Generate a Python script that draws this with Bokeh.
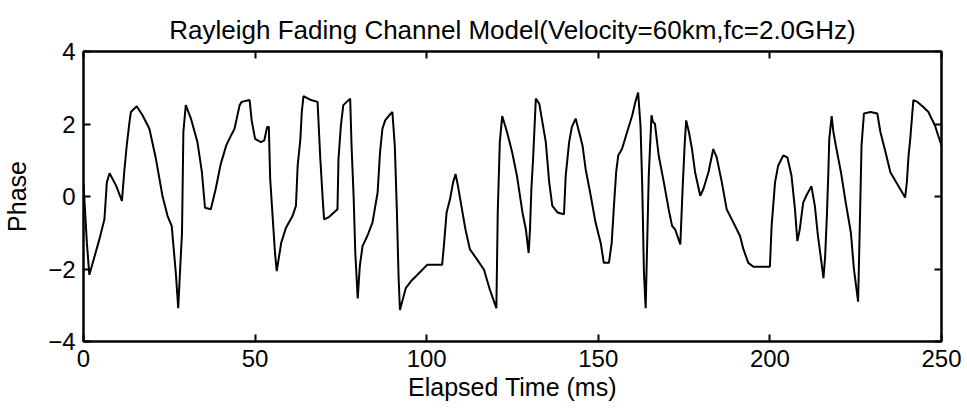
from bokeh.plotting import figure
from bokeh.models import LinearAxis, Range1d, FixedTicker, CustomJSTickFormatter
from bokeh.embed import file_html
from bokeh.resources import INLINE

time_ms = [0, 1.0, 1.7, 2.7, 4.6, 6.1, 6.8, 7.6, 9.5, 11.2, 11.9, 12.6, 13.4, 13.8, 15.5, 17.2, 19.2,
           21.1, 23.0, 24.5, 25.7, 26.9, 27.6, 28.1, 28.7, 29.1, 29.8, 31.3, 33.2, 34.5, 35.4, 37.1,
           38.5, 40.0, 41.6, 42.5, 44.0, 45.5, 46.1, 48.4, 49.0, 50.0, 51.7, 52.7, 53.5, 54.0, 54.4,
           55.1, 55.8, 56.3, 57.6, 59.0, 60.9, 61.9, 62.4, 63.2, 63.6, 64.1, 66.3, 68.2, 69.0, 69.7,
           70.1, 71.6, 74.0, 74.3, 75.0, 75.7, 77.7, 78.1, 78.7, 79.2, 79.9, 80.5, 81.3, 82.7, 84.2,
           85.7, 86.4, 87.1, 87.9, 89.1, 90.0, 90.7, 91.3, 91.8, 92.2, 93.0, 93.9, 95.4, 97.3, 100.2,
           104.5, 105.0, 105.8, 106.8, 107.7, 108.4, 109.1, 110.1, 111.3, 112.6, 114.7, 116.7, 118.4,
           120.3, 120.7, 121.3, 122.0, 123.4, 124.9, 126.3, 127.9, 128.9, 129.7, 130.1, 130.5, 131.0,
           131.8, 132.8, 133.7, 134.7, 135.7, 136.6, 138.1, 140.0, 140.5, 141.5, 142.3, 143.4, 144.4,
           145.4, 146.3, 147.8, 149.2, 150.7, 151.6, 153.1, 153.9, 154.5, 155.2, 155.8, 156.9, 158.4,
           159.9, 160.8, 161.6, 162.3, 162.8, 163.3, 163.8, 164.2, 164.7, 165.5, 165.9, 166.5, 167.6,
           169.1, 170.5, 171.5, 172.4, 173.9, 174.6, 175.2, 175.6, 176.4, 177.3, 178.2, 179.7, 180.6,
           182.1, 183.5, 184.5, 186.0, 187.4, 188.9, 191.3, 192.3, 193.7, 195.2, 197.6, 200.0, 200.5,
           201.5, 202.4, 203.9, 205.1, 206.3, 207.3, 208.0, 208.7, 209.7, 210.6, 212.1, 213.1, 214.0,
           214.8, 215.6, 216.1, 216.6, 217.0, 217.3, 218.0, 218.5, 219.2, 220.7, 222.1, 223.6, 224.5,
           225.7, 226.3, 226.7, 227.4, 229.3, 231.3, 232.2, 233.7, 235.1, 236.5, 238.0, 239.4, 239.9,
           240.4, 240.9, 241.8, 243.0, 244.7, 246.2, 247.1, 248.1, 249.0, 250.0]

phase = [0.35, -1.3, -2.16, -1.83, -1.19, -0.63, 0.39, 0.64, 0.30, -0.12, 0.71, 1.41, 2.06, 2.33, 2.49,
         2.24, 1.87, 1.04, 0.02, -0.54, -0.81, -2.11, -3.08, -2.11, -1.0, 1.78, 2.52, 2.15, 1.5, 0.67,
         -0.31, -0.35, 0.2, 0.9, 1.41, 1.59, 1.87, 2.52, 2.61, 2.66, 2.1, 1.59, 1.5, 1.55, 1.92, 1.92,
         0.48, -0.54, -1.56, -2.06, -1.28, -0.86, -0.54, -0.26, 0.85, 1.59, 2.33, 2.77, 2.66, 2.61,
         1.04, -0.07, -0.63, -0.56, -0.35, 1.04, 1.96, 2.52, 2.70, 1.41, 0.02, -1.56, -2.81, -1.93,
         -1.37, -1.09, -0.72, 0.11, 1.22, 1.87, 2.1, 2.24, 2.33, 1.41, -0.35, -2.2, -3.13, -2.85,
         -2.53, -2.34, -2.16, -1.88, -1.88, -1.37, -0.44, -0.07, 0.39, 0.62, 0.30, -0.26, -0.91,
         -1.46, -1.74, -2.02, -2.57, -3.08, -0.44, 1.5, 2.22, 1.78, 1.22, 0.57, -0.44, -0.91, -1.56,
         -0.9, 0.2, 1.04, 2.70, 2.56, 2.06, 1.5, 0.39, -0.26, -0.44, -0.49, 0.57, 1.5, 1.92, 2.15,
         1.78, 1.41, 0.76, 0.02, -0.72, -1.28, -1.83, -1.83, -1.28, -0.35, 0.67, 1.13, 1.31, 1.78,
         2.24, 2.61, 2.87, 1.96, 0.30, -2.11, -3.08, -1.46, 0.57, 2.24, 2.06, 2.01, 1.13, 0.39, -0.35,
         -0.81, -0.91, -1.32, 0.30, 1.5, 2.10, 1.78, 1.31, 0.67, 0.02, 0.2, 0.67, 1.31, 1.08, 0.39,
         -0.35, -0.63, -1.09, -1.46, -1.83, -1.94, -1.94, -1.94, -0.81, 0.39, 0.85, 1.13, 1.08, 0.57,
         -0.35, -1.23, -0.91, -0.17, 0.02, 0.28, -0.26, -1.09, -1.65, -2.25, -1.65, -0.54, 0.57, 1.59,
         2.22, 1.78, 1.41, 0.67, -0.17, -1.0, -2.02, -2.90, -0.35, 1.41, 2.29, 2.33, 2.29, 1.78, 1.22,
         0.67, 0.44, 0.20, -0.03, 0.39, 1.13, 1.59, 2.66, 2.61, 2.47, 2.33, 2.15, 1.96, 1.69, 1.41]

x_ticks = [0, 50, 100, 150, 200, 250]
y_ticks = [-4, -2, 0, 2, 4]

FONT = "Liberation Sans"

p = figure(width=967, height=417, output_backend="svg", toolbar_location=None,
           x_range=Range1d(0, 250), y_range=Range1d(-4, 4),
           min_border_left=80, min_border_right=26, min_border_top=51, min_border_bottom=76,
           title="Rayleigh Fading Channel Model(Velocity=60km,fc=2.0GHz)")

p.title.text_font = FONT
p.title.text_font_size = "26px"
p.title.text_font_style = "normal"
p.title.align = "center"
p.title.text_color = "black"
p.title.standoff = 14

p.line(time_ms, phase, line_color="black", line_width=2)

p.xgrid.visible = False
p.ygrid.visible = False
p.outline_line_color = "black"
p.outline_line_width = 2
p.background_fill_color = "white"
p.border_fill_color = "white"


def style_axis(ax, ticks, show_labels=True):
    ax.ticker = FixedTicker(ticks=ticks)
    ax.axis_line_color = "black"
    ax.axis_line_width = 2
    ax.major_tick_line_color = "black"
    ax.major_tick_line_width = 2
    ax.major_tick_in = 7
    ax.major_tick_out = 0
    ax.minor_tick_line_color = None
    ax.major_label_text_font = FONT
    ax.major_label_text_font_size = "24px"
    ax.major_label_text_color = "black"
    ax.axis_label_text_font = FONT
    ax.axis_label_text_font_size = "25px"
    ax.axis_label_text_font_style = "normal"
    ax.axis_label_text_color = "black"
    if not show_labels:
        ax.formatter = CustomJSTickFormatter(code="return '';")
        ax.major_label_text_font_size = "1px"


xa = p.xaxis[0]
style_axis(xa, x_ticks)
xa.axis_label = "Elapsed Time (ms)"
xa.major_label_standoff = 8
xa.axis_label_standoff = 3

ya = p.yaxis[0]
style_axis(ya, y_ticks)
ya.axis_label = "Phase"
ya.major_label_standoff = 8
ya.axis_label_standoff = 14

top = LinearAxis()
style_axis(top, x_ticks, show_labels=False)
p.add_layout(top, "above")

right = LinearAxis()
style_axis(right, y_ticks, show_labels=False)
p.add_layout(right, "right")

open("out.html", "w").write(file_html(p, INLINE))
